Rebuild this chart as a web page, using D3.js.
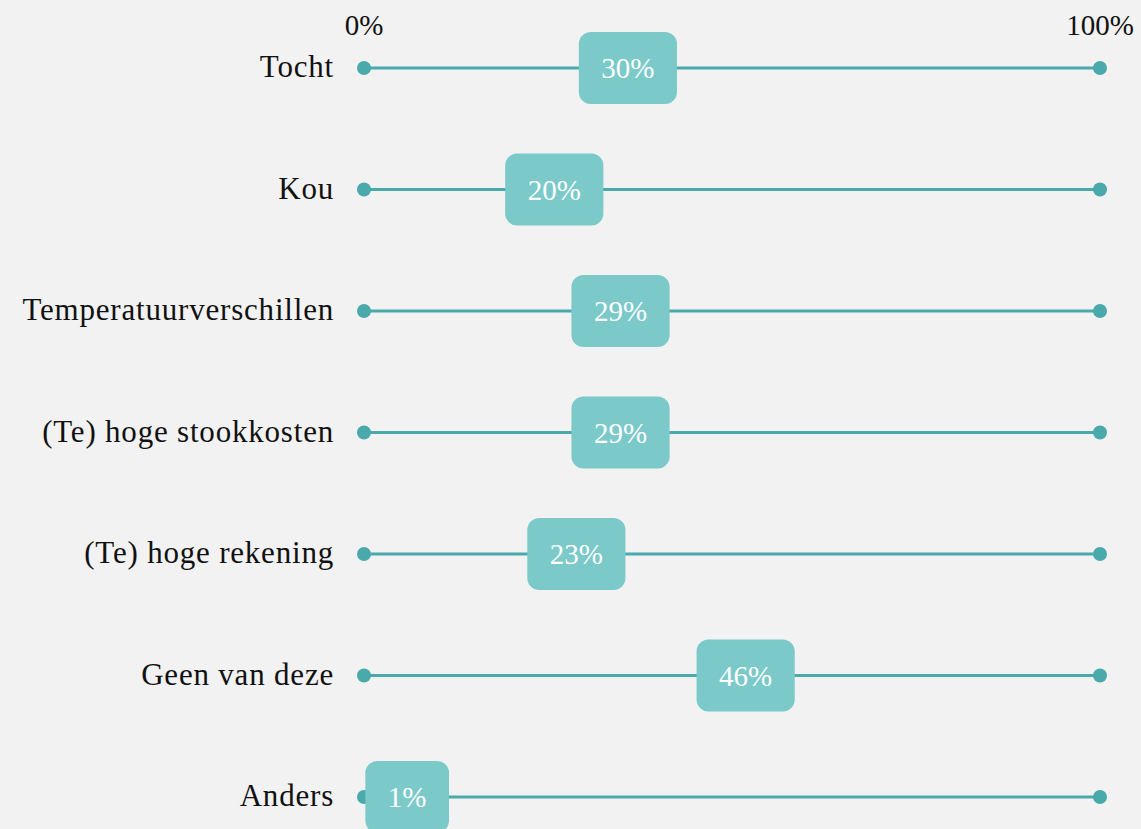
<!DOCTYPE html>
<html>
<head>
<meta charset="utf-8">
<script src="https://cdn.jsdelivr.net/npm/d3@7"></script>
<style>
  body { margin: 0; background: #f2f2f2; }
  text { font-family: "Liberation Serif", "DejaVu Serif", serif; }
</style>
</head>
<body>
<script>
const categories = ["Tocht", "Kou", "Temperatuurverschillen", "(Te) hoge stookkosten", "(Te) hoge rekening", "Geen van deze", "Anders"];
const values = [30, 20, 29, 29, 23, 46, 1];
const tickLabels = ["0%", "100%"];

const width = 1141, height = 829;
const lineColor = "#4aa9ab", boxColor = "#7bc9c9";

const svg = d3.select("body").append("svg")
    .attr("width", width).attr("height", height)
    .style("display", "block");

const x = d3.scaleLinear().domain([0, 100]).range([364, 1100]);
const y = d3.scalePoint().domain(categories).range([68, 797]);

// top tick labels
svg.append("g").selectAll("text")
    .data([0, 100])
    .enter().append("text")
    .attr("x", d => x(d))
    .attr("y", 35)
    .attr("text-anchor", "middle")
    .attr("font-size", 29)
    .attr("fill", "#111")
    .text((d, i) => tickLabels[i]);

const rows = svg.append("g").selectAll("g")
    .data(categories)
    .enter().append("g")
    .attr("transform", d => `translate(0,${y(d)})`);

rows.append("text")
    .attr("x", 334)
    .attr("y", 9)
    .attr("text-anchor", "end")
    .attr("font-size", 31)
    .attr("letter-spacing", 0.8)
    .attr("fill", "#111")
    .text(d => d);

rows.append("line")
    .attr("x1", x(0)).attr("x2", x(100))
    .attr("stroke", lineColor).attr("stroke-width", 3);

rows.selectAll("circle")
    .data([0, 100])
    .enter().append("circle")
    .attr("cx", d => x(d)).attr("r", 7)
    .attr("fill", lineColor);

// value boxes
rows.each(function(d, i) {
    const g = d3.select(this);
    const v = values[i];
    const t = g.append("text")
        .attr("y", 10)
        .attr("text-anchor", "middle")
        .attr("font-size", 29)
        .attr("fill", "#fff")
        .text(v + "%");
    const w = t.node().getComputedTextLength() + 45;
    const left = x(v) - 6;
    g.insert("rect", function() { return t.node(); })
        .attr("x", left).attr("y", -36)
        .attr("width", w).attr("height", 72)
        .attr("rx", 12)
        .attr("fill", boxColor);
    t.attr("x", left + w / 2);
});
</script>
</body>
</html>
